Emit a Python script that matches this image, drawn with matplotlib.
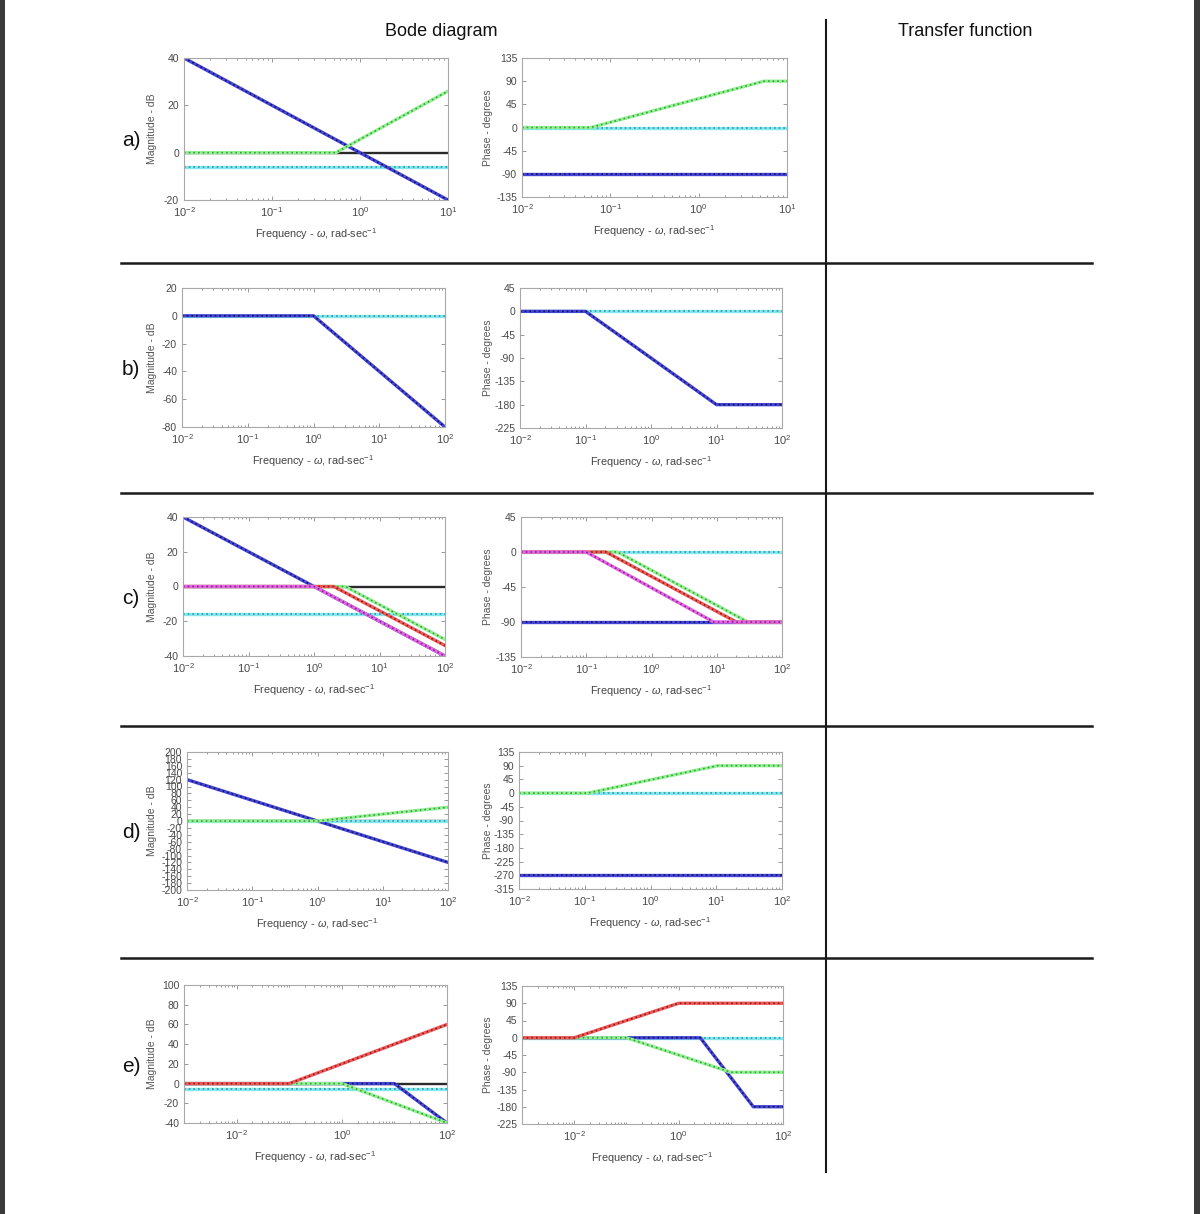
import matplotlib.pyplot as plt
from matplotlib.ticker import LogLocator, NullFormatter, FixedLocator
from matplotlib.patches import Rectangle

plt.rcParams['font.family'] = ['Liberation Sans', 'DejaVu Sans']
plt.rcParams['mathtext.fontset'] = 'custom'
plt.rcParams['mathtext.rm'] = 'Liberation Sans'
plt.rcParams['mathtext.it'] = 'Liberation Sans:italic'
plt.rcParams['axes.unicode_minus'] = False

W, H = 1200, 1214

# ---- data: asymptote break points (frequency, value) ----
# row a
a_xlim = (1e-2, 1e1)
a_mag_ticks = [-20, 0, 20, 40]
a_phase_ticks = [-135, -90, -45, 0, 45, 90, 135]
a_mag = [
    ('black', [1e-2, 1e1], [0, 0]),
    ('cyan', [1e-2, 1e1], [-6, -6]),
    ('blue', [1e-2, 1e1], [40, -20]),
    ('green', [1e-2, 0.53, 1e1], [0, 0, 26]),
]
a_phase = [
    ('cyan', [1e-2, 1e1], [0, 0]),
    ('blue', [1e-2, 1e1], [-90, -90]),
    ('green', [1e-2, 0.06, 5.5, 1e1], [0, 0, 90, 90]),
]

# row b
b_xlim = (1e-2, 1e2)
b_mag_ticks = [-80, -60, -40, -20, 0, 20]
b_phase_ticks = [-225, -180, -135, -90, -45, 0, 45]
b_mag = [
    ('cyan', [1e-2, 1e2], [0, 0]),
    ('blue', [1e-2, 1, 1e2], [0, 0, -80]),
]
b_phase = [
    ('cyan', [1e-2, 1e2], [0, 0]),
    ('blue', [1e-2, 0.1, 10, 1e2], [0, 0, -180, -180]),
]

# row c
c_xlim = (1e-2, 1e2)
c_mag_ticks = [-40, -20, 0, 20, 40]
c_phase_ticks = [-135, -90, -45, 0, 45]
c_mag = [
    ('black', [1e-2, 1e2], [0, 0]),
    ('cyan', [1e-2, 1e2], [-15.6, -15.6]),
    ('blue', [1e-2, 1e2], [40, -40]),
    ('green', [1e-2, 3, 1e2], [0, 0, -30.5]),
    ('red', [1e-2, 2, 1e2], [0, 0, -34]),
    ('magenta', [1e-2, 1, 1e2], [0, 0, -40]),
]
c_phase = [
    ('cyan', [1e-2, 1e2], [0, 0]),
    ('blue', [1e-2, 1e2], [-90, -90]),
    ('green', [1e-2, 0.3, 30, 1e2], [0, 0, -90, -90]),
    ('red', [1e-2, 0.2, 20, 1e2], [0, 0, -90, -90]),
    ('magenta', [1e-2, 0.1, 9, 1e2], [0, 0, -90, -90]),
]

# row d
d_xlim = (1e-2, 1e2)
d_mag_ticks = list(range(-200, 201, 20))
d_phase_ticks = list(range(-315, 136, 45))
d_mag = [
    ('black', [1e-2, 1e2], [0, 0]),
    ('cyan', [1e-2, 1e2], [0, 0]),
    ('blue', [1e-2, 1e2], [120, -120]),
    ('green', [1e-2, 1, 1e2], [0, 0, 40]),
]
d_phase = [
    ('cyan', [1e-2, 1e2], [0, 0]),
    ('blue', [1e-2, 1e2], [-270, -270]),
    ('green', [1e-2, 0.11, 10.5, 1e2], [0, 0, 90, 90]),
]

# row e
e_xlim = (1e-3, 1e2)
e_mag_ticks = [-40, -20, 0, 20, 40, 60, 80, 100]
e_phase_ticks = [-225, -180, -135, -90, -45, 0, 45, 90, 135]
e_mag = [
    ('black', [1e-3, 1e2], [0, 0]),
    ('cyan', [1e-3, 1e2], [-6, -6]),
    ('blue', [1e-3, 10, 1e2], [0, 0, -40]),
    ('green', [1e-3, 1, 1e2], [0, 0, -40]),
    ('red', [1e-3, 0.1, 1e2], [0, 0, 60]),
]
e_phase = [
    ('cyan', [1e-3, 1e2], [0, 0]),
    ('blue', [1e-3, 2.6, 27, 1e2], [0, 0, -180, -180]),
    ('green', [1e-3, 0.1, 10, 1e2], [0, 0, -90, -90]),
    ('red', [1e-3, 0.01, 1, 1e2], [0, 0, 90, 90]),
]

row_labels = ['a)', 'b)', 'c)', 'd)', 'e)']

# (base colour, dot colour) for the dotted MATLAB style traces
STYLES = {
    'blue': ('#4545d8', '#12125e'),
    'green': ('#94f094', '#3a9e3a'),
    'cyan': ('#86e8ee', '#2a9aa2'),
    'red': ('#ee5a5a', '#8e1a1a'),
    'magenta': ('#e265e2', '#8a228a'),
}

# axes boxes in pixels: (left, right, top, bottom)
mag_boxes = [(184, 448, 58, 200), (182, 445, 288, 427), (183, 445, 517, 656),
             (187, 448, 752, 890), (184, 447, 985, 1123)]
phase_boxes = [(522, 787, 58, 197), (520, 782, 288, 428), (521, 782, 517, 657),
               (519, 782, 752, 889), (522, 783, 986, 1124)]


def add_axes(fig, box):
    l, r, t, b = box
    return fig.add_axes([l / W, 1 - b / H, (r - l) / W, (b - t) / H])


def draw_trace(ax, color, w, y):
    if color == 'black':
        ax.plot(w, y, color='#2a2a2a', lw=1.7, zorder=2)
    else:
        base, dots = STYLES[color]
        ax.plot(w, y, color=base, lw=2.4, zorder=2)
        ax.plot(w, y, color=dots, lw=1.2, ls=(0, (1, 1.8)), zorder=2)


def style_axes(ax, xlim, yticks, sparse_x=False):
    ax.set_xscale('log')
    ax.set_xlim(*xlim)
    ax.set_ylim(yticks[0], yticks[-1])
    ax.yaxis.set_major_locator(FixedLocator(yticks))
    if sparse_x:
        ax.xaxis.set_major_locator(FixedLocator([1e-2, 1e0, 1e2]))
    else:
        ax.xaxis.set_major_locator(LogLocator(base=10, numticks=10))
    ax.xaxis.set_minor_locator(LogLocator(base=10, subs=range(1, 10), numticks=20))
    ax.xaxis.set_minor_formatter(NullFormatter())
    ax.tick_params(which='both', direction='in', top=True, right=True,
                   colors='#888888', labelcolor='#4a4a4a', labelsize=7.5, width=0.6)
    ax.tick_params(which='major', length=3)
    ax.tick_params(which='minor', length=1.5)
    ax.tick_params(axis='x', which='major', labelsize=8)
    for s in ax.spines.values():
        s.set_color('#a8a8a8')
        s.set_linewidth(0.8)


fig = plt.figure(figsize=(W / 100, H / 100), dpi=100)

rows = [
    (a_xlim, a_mag_ticks, a_phase_ticks, a_mag, a_phase),
    (b_xlim, b_mag_ticks, b_phase_ticks, b_mag, b_phase),
    (c_xlim, c_mag_ticks, c_phase_ticks, c_mag, c_phase),
    (d_xlim, d_mag_ticks, d_phase_ticks, d_mag, d_phase),
    (e_xlim, e_mag_ticks, e_phase_ticks, e_mag, e_phase),
]

xlabel = r'Frequency - $\omega$, rad-sec$^{-1}$'

for i, (xlim, mticks, pticks, mag, phase) in enumerate(rows):
    sparse = (i == 4)
    for box, traces, ticks, ylab, lab_x in [
            (mag_boxes[i], mag, mticks, 'Magnitude - dB', 152),
            (phase_boxes[i], phase, pticks, 'Phase - degrees', 488)]:
        ax = add_axes(fig, box)
        for color, w, y in traces:
            draw_trace(ax, color, w, y)
        style_axes(ax, xlim, ticks, sparse_x=sparse)
        l, r, t, b = box
        fig.text(lab_x / W, 1 - (t + b) / 2 / H, ylab, rotation=90,
                 ha='center', va='center', fontsize=7.5, color='#555555')
        fig.text((l + r) / 2 / W, 1 - (b + 34) / H, xlabel,
                 ha='center', va='center', fontsize=7.8, color='#444444')
    t, b = mag_boxes[i][2], mag_boxes[i][3]
    fig.text(131 / W, 1 - ((t + b) / 2 + 12) / H, row_labels[i],
             ha='center', va='center', fontsize=15, color='#111111')

# headers
fig.text(441 / W, 1 - 32 / H, 'Bode diagram', ha='center', va='center',
         fontsize=13, color='#111111')
fig.text(965 / W, 1 - 32 / H, 'Transfer function', ha='center', va='center',
         fontsize=13, color='#111111')

# table rules
for y in [263, 493, 726, 958]:
    fig.add_artist(plt.Line2D([121 / W, 1092 / W], [1 - y / H, 1 - y / H],
                              color='#1a1a1a', lw=1.8))
fig.add_artist(plt.Line2D([826 / W, 826 / W], [1 - 20 / H, 1 - 1172 / H],
                          color='#1a1a1a', lw=1.5))

# dark strips at the image edges
fig.add_artist(Rectangle((0, 0), 5 / W, 1, transform=fig.transFigure,
                         color='#3a3a3a', lw=0))
fig.add_artist(Rectangle((1 - 6 / W, 0), 6 / W, 1, transform=fig.transFigure,
                         color='#3a3a3a', lw=0))

fig.savefig('out.png', dpi=100)
